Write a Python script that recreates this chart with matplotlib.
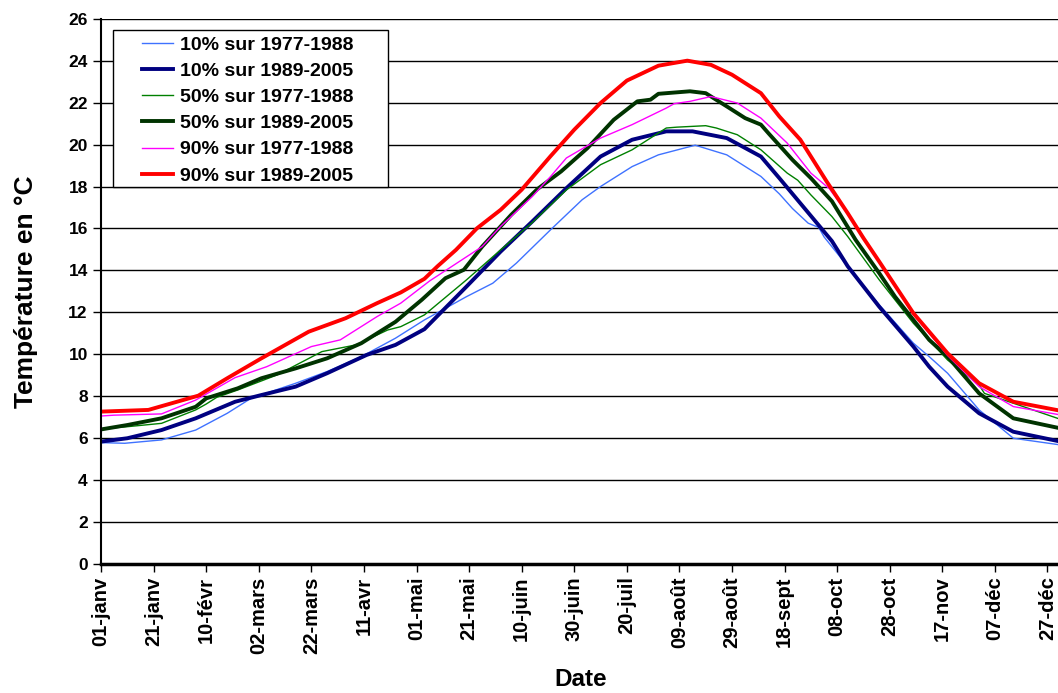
import matplotlib
matplotlib.use('Agg')
import matplotlib.pyplot as plt
from matplotlib.patches import Rectangle

plt.rcParams['font.family'] = ['Liberation Sans', 'DejaVu Sans']
plt.rcParams['font.weight'] = 'bold'

# jour de l'annee (0 = 01-janv) et temperature
j_10_a = [0, 9, 23, 36, 48, 57, 74, 86, 99, 112, 123, 139, 149, 158, 171, 183, 190, 202, 212, 226, 238, 251, 258, 263, 269, 273, 275, 283, 296, 309, 315, 322, 334, 347, 365]
t_10_a = [5.79, 5.76, 5.92, 6.39, 7.19, 7.9, 8.62, 9.18, 9.89, 10.77, 11.64, 12.75, 13.39, 14.35, 15.94, 17.37, 18.0, 18.95, 19.51, 19.97, 19.51, 18.48, 17.65, 16.95, 16.25, 16.05, 15.6, 14.35, 12.36, 10.53, 9.89, 9.1, 7.35, 6.0, 5.68]

j_10_b = [0, 10, 23, 36, 51, 61, 74, 86, 101, 112, 123, 139, 152, 164, 177, 190, 202, 215, 225, 238, 251, 258, 268, 278, 284, 296, 309, 315, 322, 334, 347, 365]
t_10_b = [5.84, 6.0, 6.39, 6.95, 7.74, 8.06, 8.46, 9.1, 9.97, 10.45, 11.2, 13.23, 14.9, 16.33, 17.92, 19.43, 20.23, 20.63, 20.63, 20.31, 19.43, 18.4, 16.9, 15.4, 14.2, 12.27, 10.37, 9.41, 8.46, 7.19, 6.31, 5.84]

j_50_a = [0, 10, 23, 36, 40, 44, 52, 67, 84, 97, 109, 114, 123, 139, 152, 164, 177, 190, 202, 215, 219, 230, 234, 242, 251, 261, 265, 270, 278, 284, 296, 309, 322, 334, 336, 347, 365]
t_50_a = [6.45, 6.55, 6.71, 7.35, 7.63, 7.95, 8.3, 9.02, 10.13, 10.45, 11.16, 11.32, 11.88, 13.55, 14.98, 16.28, 17.84, 19.04, 19.75, 20.79, 20.83, 20.9, 20.79, 20.47, 19.75, 18.64, 18.3, 17.6, 16.57, 15.62, 13.55, 11.48, 9.73, 8.54, 8.14, 7.67, 6.9]

j_50_b = [0, 10, 23, 36, 40, 52, 61, 74, 86, 99, 112, 122, 131, 138, 145, 156, 166, 175, 185, 195, 204, 209, 212, 224, 230, 238, 245, 251, 254, 263, 270, 278, 287, 296, 302, 309, 315, 322, 334, 347, 365]
t_50_b = [6.42, 6.63, 6.95, 7.5, 7.9, 8.38, 8.86, 9.33, 9.81, 10.53, 11.55, 12.6, 13.63, 14.03, 15.14, 16.65, 17.88, 18.72, 19.83, 21.18, 22.06, 22.14, 22.42, 22.54, 22.45, 21.82, 21.26, 20.95, 20.52, 19.27, 18.4, 17.3, 15.46, 13.87, 12.75, 11.64, 10.69, 9.89, 8.14, 6.95, 6.47]

j_90_a = [0, 5, 23, 36, 51, 63, 80, 91, 105, 114, 125, 145, 152, 164, 171, 177, 190, 202, 215, 218, 224, 232, 242, 251, 261, 270, 277, 288, 296, 309, 322, 334, 347, 365]
t_90_a = [7.06, 7.1, 7.16, 7.82, 8.89, 9.41, 10.37, 10.69, 11.8, 12.44, 13.5, 15.14, 16.1, 17.52, 18.48, 19.36, 20.31, 20.95, 21.74, 21.95, 22.06, 22.29, 21.98, 21.26, 20.07, 18.64, 17.9, 16.0, 14.4, 11.9, 9.95, 8.46, 7.51, 7.11]

j_90_b = [0, 18, 37, 48, 61, 79, 93, 105, 114, 123, 128, 135, 143, 152, 160, 171, 180, 190, 200, 212, 223, 232, 240, 251, 258, 266, 276, 284, 290, 296, 309, 322, 334, 347, 365]
t_90_b = [7.27, 7.35, 8.03, 8.86, 9.81, 11.08, 11.72, 12.44, 12.95, 13.6, 14.2, 14.98, 16.01, 16.89, 17.85, 19.45, 20.71, 21.98, 23.05, 23.76, 24.0, 23.8, 23.33, 22.45, 21.34, 20.23, 18.24, 16.73, 15.54, 14.42, 11.96, 10.05, 8.62, 7.74, 7.31]

tick_jours = [0, 20, 40, 60, 80, 100, 120, 140, 160, 180, 200, 220, 240, 260, 280, 300, 320, 340, 360]
tick_noms = ['01-janv', '21-janv', '10-févr', '02-mars', '22-mars', '11-avr', '01-mai', '21-mai', '10-juin',
             '30-juin', '20-juil', '09-août', '29-août', '18-sept', '08-oct', '28-oct', '17-nov', '07-déc', '27-déc']

fig = plt.figure(figsize=(10.58, 6.93), dpi=100)
ax = fig.add_axes([0.0955, 0.186, 0.907, 0.787])

ax.plot(j_10_a, t_10_a, color='#3F72FF', lw=1.0, label='10% sur 1977-1988')
ax.plot(j_10_b, t_10_b, color='#000080', lw=2.8, label='10% sur 1989-2005')
ax.plot(j_50_a, t_50_a, color='#008000', lw=1.0, label='50% sur 1977-1988')
ax.plot(j_50_b, t_50_b, color='#003300', lw=2.8, label='50% sur 1989-2005')
ax.plot(j_90_a, t_90_a, color='#FF00FF', lw=1.0, label='90% sur 1977-1988')
ax.plot(j_90_b, t_90_b, color='#FF0000', lw=2.8, label='90% sur 1989-2005')

ax.set_xlim(0, 365)
ax.set_ylim(0, 26)
ax.set_yticks(range(0, 27, 2))
ax.set_xticks(tick_jours)
ax.set_xticklabels(tick_noms, rotation=90, fontsize=14.5, fontweight='bold')
for lab in ax.get_yticklabels():
    lab.set_fontsize(12.5)
    lab.set_fontweight('bold')
ax.yaxis.grid(True, color='black', lw=1)
ax.set_axisbelow(True)
ax.spines['top'].set_visible(False)
ax.spines['right'].set_visible(False)
ax.spines['left'].set_linewidth(1.5)
ax.spines['bottom'].set_linewidth(2.5)
ax.tick_params(axis='both', direction='out', length=6, width=1, color='black')
ax.tick_params(axis='x', pad=3)

ax.set_xlabel('Date', fontsize=17.5, fontweight='bold', labelpad=10)
ax.set_ylabel('Température en °C', fontsize=19, fontweight='bold', labelpad=22)

# cadre de la legende (plus large que le texte, comme dans Excel)
ax.add_patch(Rectangle((0.0125, 0.6917), 0.2865, 0.2881, transform=ax.transAxes,
                       facecolor='white', edgecolor='black', lw=1, zorder=4.5))
leg = ax.legend(loc='upper left', bbox_to_anchor=(0.043, 0.968), borderaxespad=0,
                frameon=False, fontsize=14, handlelength=1.6, handletextpad=0.35,
                labelspacing=0.44, borderpad=0)

fig.savefig('out.png', dpi=100)
